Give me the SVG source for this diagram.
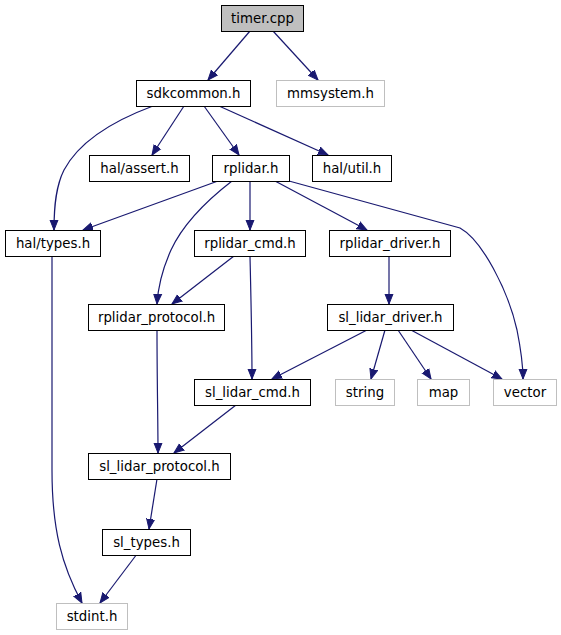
<svg xmlns="http://www.w3.org/2000/svg" width="561" height="635" viewBox="0 0 561 635">
<style>
.n rect{fill:#fff;stroke:#000;stroke-width:1}
.g rect{fill:#fff;stroke:#bfbfbf;stroke-width:1}
.r rect{fill:#bfbfbf;stroke:#000;stroke-width:1}
text{font-family:"DejaVu Sans",sans-serif;font-size:13.33px;fill:#000;text-anchor:middle}
#edges path{fill:none;stroke:#191970;stroke-width:1.2;marker-end:url(#ah)}
</style>
<defs>
<marker id="ah" markerUnits="userSpaceOnUse" markerWidth="12" markerHeight="10" refX="10" refY="4" orient="auto" viewBox="0 0 12 8">
<path d="M0,0 L10,4 L0,8 z" fill="#191970" stroke="#191970"/>
</marker>
</defs>
<rect width="561" height="635" fill="#fff"/>
<g id="edges">
<path d="M250,31 L208,80"/>
<path d="M273,31 L318,80"/>
<path d="M153,106 C118,119 80,140 64,170 C56,186 54,205 54,230"/>
<path d="M184,106 L152,155"/>
<path d="M204,106 L239,155"/>
<path d="M219,106 L328,155"/>
<path d="M218,181 L83,230"/>
<path d="M232,181 C210,198 184,222 171,250 C162,270 158,288 157,304"/>
<path d="M250,181 L250,230"/>
<path d="M275,181 L367,230"/>
<path d="M289,181 L460,228 C482,240 508,290 517,330 C521,350 523,365 523,379"/>
<path d="M234,256 L172,304"/>
<path d="M250,256 C251,300 252,340 252,379"/>
<path d="M389,256 L389,304"/>
<path d="M367,330 L272,379"/>
<path d="M385,330 L371,379"/>
<path d="M398,330 L431,379"/>
<path d="M411,330 L502,379"/>
<path d="M157,330 C157,380 158,420 158,453"/>
<path d="M236,405 L174,453"/>
<path d="M157,479 L149,529"/>
<path d="M137,554 L100,603"/>
<path d="M52,256 L52,470 C52,530 62,566 82,603"/>
</g>
<g id="node-timer" class="r"><rect x="221.5" y="5.5" width="82" height="26"/><text x="262.5" y="23">timer.cpp</text></g>
<g id="node-sdkcommon" class="n"><rect x="136.5" y="80.5" width="114" height="26"/><text x="193.5" y="98">sdkcommon.h</text></g>
<g id="node-mmsystem" class="g"><rect x="276.5" y="80.5" width="108" height="26"/><text x="330.5" y="98">mmsystem.h</text></g>
<g id="node-halassert" class="n"><rect x="89.5" y="155.5" width="100" height="26"/><text x="139.5" y="173">hal/assert.h</text></g>
<g id="node-rplidar" class="n"><rect x="212.5" y="155.5" width="77" height="26"/><text x="251" y="173">rplidar.h</text></g>
<g id="node-halutil" class="n"><rect x="312.5" y="155.5" width="79" height="26"/><text x="352" y="173">hal/util.h</text></g>
<g id="node-haltypes" class="n"><rect x="5.5" y="230.5" width="95" height="26"/><text x="53" y="248">hal/types.h</text></g>
<g id="node-rplidarcmd" class="n"><rect x="194.5" y="230.5" width="111" height="26"/><text x="250" y="248">rplidar_cmd.h</text></g>
<g id="node-rplidardriver" class="n"><rect x="329.5" y="230.5" width="121" height="26"/><text x="390" y="248">rplidar_driver.h</text></g>
<g id="node-rplidarprotocol" class="n"><rect x="88.5" y="304.5" width="136" height="26"/><text x="156.5" y="322">rplidar_protocol.h</text></g>
<g id="node-sllidardriver" class="n"><rect x="327.5" y="304.5" width="126" height="26"/><text x="390.5" y="322">sl_lidar_driver.h</text></g>
<g id="node-sllidarcmd" class="n"><rect x="194.5" y="379.5" width="116" height="26"/><text x="252.5" y="397">sl_lidar_cmd.h</text></g>
<g id="node-string" class="g"><rect x="335.5" y="379.5" width="59" height="26"/><text x="365" y="397">string</text></g>
<g id="node-map" class="g"><rect x="417.5" y="379.5" width="52" height="26"/><text x="443.5" y="397">map</text></g>
<g id="node-vector" class="g"><rect x="493.5" y="379.5" width="63" height="26"/><text x="525" y="397">vector</text></g>
<g id="node-sllidarprotocol" class="n"><rect x="88.5" y="453.5" width="142" height="26"/><text x="159.5" y="471">sl_lidar_protocol.h</text></g>
<g id="node-sltypes" class="n"><rect x="102.5" y="529.5" width="88" height="26"/><text x="146.5" y="547">sl_types.h</text></g>
<g id="node-stdint" class="g"><rect x="56.5" y="603.5" width="71" height="26"/><text x="92" y="621">stdint.h</text></g>
</svg>
